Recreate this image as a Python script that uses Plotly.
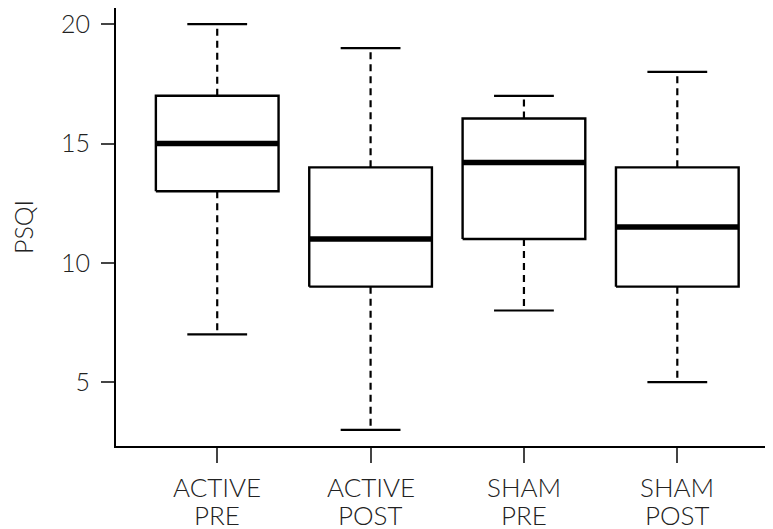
import plotly.graph_objects as go

cat_line1 = ["ACTIVE", "ACTIVE", "SHAM", "SHAM"]
cat_line2 = ["PRE", "POST", "PRE", "POST"]
mins = [7, 3, 8, 5]
q1s = [13, 9, 11, 9]
medians = [15, 11, 14.2, 11.5]
q3s = [17, 14, 16.05, 14]
maxs = [20, 19, 17, 18]
y_ticks = [5, 10, 15, 20]

BOX_HALF = 0.4
CAP_HALF = 0.195
FONT = "Lato"
TXT = dict(family=FONT, size=25, color="#222222", weight=300)
XTXT = dict(family=FONT, size=26, color="#222222", weight=300)

fig = go.Figure()
positions = list(range(1, len(cat_line1) + 1))
for i, c in enumerate(positions):
    # whiskers (dashed)
    fig.add_trace(go.Scatter(x=[c, c, None, c, c], y=[q3s[i], maxs[i], None, q1s[i], mins[i]],
                             mode="lines", line=dict(color="black", width=2.2, dash="7px,5px"),
                             hoverinfo="skip", showlegend=False))
    # caps
    fig.add_trace(go.Scatter(x=[c - CAP_HALF, c + CAP_HALF, None, c - CAP_HALF, c + CAP_HALF],
                             y=[maxs[i], maxs[i], None, mins[i], mins[i]],
                             mode="lines", line=dict(color="black", width=2.2),
                             hoverinfo="skip", showlegend=False))
    # box
    fig.add_trace(go.Scatter(x=[c - BOX_HALF, c + BOX_HALF, c + BOX_HALF, c - BOX_HALF, c - BOX_HALF],
                             y=[q1s[i], q1s[i], q3s[i], q3s[i], q1s[i]],
                             mode="lines", fill="toself", fillcolor="white",
                             line=dict(color="black", width=2.4),
                             hoverinfo="skip", showlegend=False))
    # median
    fig.add_trace(go.Scatter(x=[c - BOX_HALF, c + BOX_HALF], y=[medians[i], medians[i]],
                             mode="lines", line=dict(color="black", width=5.5),
                             hoverinfo="skip", showlegend=False))
    # two-line category label (tight line spacing, as in the reference)
    fig.add_annotation(x=c, xref="x", y=0, yref="paper", text=cat_line1[i],
                       showarrow=False, xanchor="center", yanchor="middle",
                       height=27, valign="middle",
                       yshift=-40, font=XTXT)
    fig.add_annotation(x=c, xref="x", y=0, yref="paper", text=cat_line2[i],
                       showarrow=False, xanchor="center", yanchor="middle",
                       height=27, valign="middle",
                       yshift=-68, font=XTXT)

# the page body adds an 8px offset, so the figure is 8px smaller and margins shifted
fig.update_layout(
    width=765, height=521,
    margin=dict(l=108, r=0, t=0, b=83),
    plot_bgcolor="white", paper_bgcolor="white",
    font=TXT,
    showlegend=False,
)
fig.update_xaxes(
    range=[0.34, 4.624], showgrid=False, zeroline=False, automargin=False,
    showline=True, linecolor="black", linewidth=2,
    tickmode="array", tickvals=positions, showticklabels=False,
    ticks="outside", ticklen=15, tickwidth=1.5, tickcolor="#444444",
)
fig.update_yaxes(
    range=[2.32, 20.68], showgrid=False, zeroline=False, automargin=False,
    showline=True, linecolor="black", linewidth=2,
    tickmode="array", tickvals=y_ticks, ticktext=[str(v) for v in y_ticks],
    ticks="outside", ticklen=13, tickwidth=1.5, tickcolor="#444444",
    tickfont=TXT, ticklabelstandoff=6, ticklabeloverflow="allow",
    title=dict(text="PSQI", font=TXT, standoff=22),
)

fig.write_html("out.html")
